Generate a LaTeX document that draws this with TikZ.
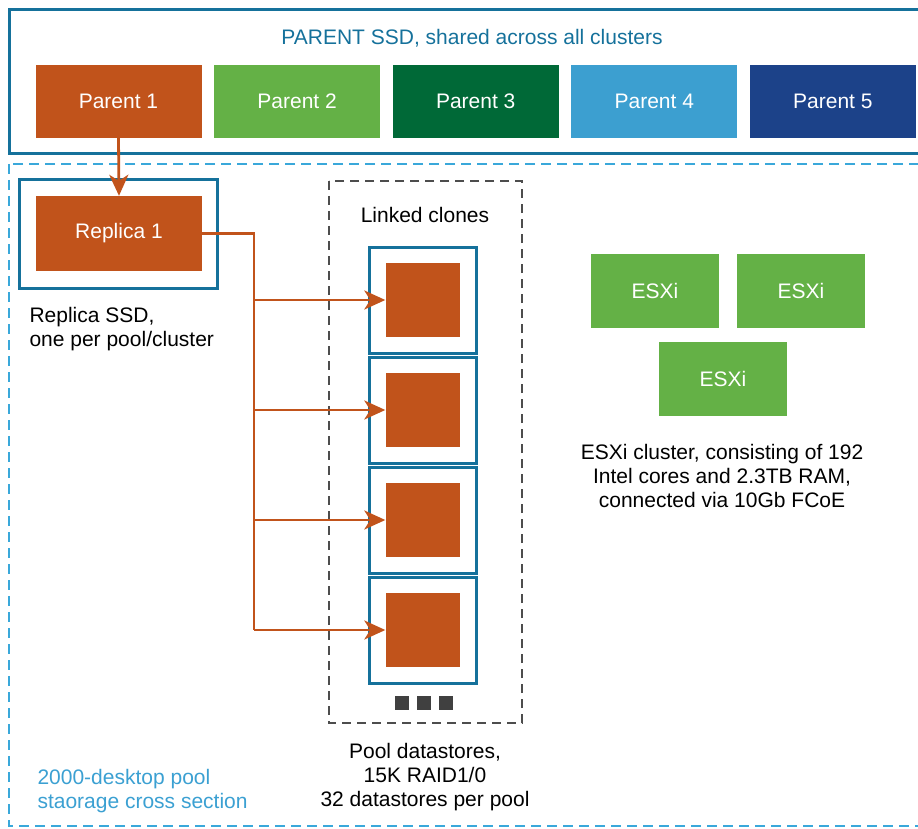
\documentclass[tikz,border=0pt]{standalone}
\usepackage{fontspec}
\setmainfont{Liberation Sans}
\usetikzlibrary{arrows.meta}
\definecolor{orng}{RGB}{193,83,27}
\definecolor{grnlight}{RGB}{100,177,70}
\definecolor{grndark}{RGB}{0,105,55}
\definecolor{bluelight}{RGB}{60,159,208}
\definecolor{bluedark}{RGB}{28,66,137}
\definecolor{framblue}{RGB}{21,113,155}
\definecolor{dashblue}{RGB}{58,168,218}
\definecolor{pooltxt}{RGB}{59,160,210}
\definecolor{boxgray}{RGB}{77,77,77}
\definecolor{dotgray}{RGB}{64,64,64}
\tikzset{
  fillbox/.style={inner sep=0pt, text=white, font=\fontsize{21}{24}\selectfont},
  clonebox/.style={draw=framblue, line width=3pt, minimum width=107pt, minimum height=106pt, inner sep=0pt},
  clonedisk/.style={fill=orng, minimum size=74pt, inner sep=0pt},
  feed/.style={draw=orng, line width=2.8pt},
  feedtip/.style={-{Stealth[length=21pt, width=19pt, inset=6pt]}}
}
\begin{document}
\begin{tikzpicture}[x=1pt, y=-1pt, font=\fontsize{21}{24}\selectfont]
	\useasboundingbox (0,0) rectangle (918,829);
	\clip (0,0) rectangle (918,829);
	% parent ssd
	\draw[framblue, line width=3pt] (9,10) rectangle (930,154);
	\node[text=framblue] (title) at (472,38) {PARENT SSD, shared across all clusters};
	\foreach \i/\col in {1/orng, 2/grnlight, 3/grndark, 4/bluelight, 5/bluedark}
		\node[fillbox, fill=\col, minimum width=166pt, minimum height=73pt]
			(p\i) at ({118.5+178.6*(\i-1)},101.5) {Parent \i};
	% pool section
	\draw[dashblue, line width=2.2pt, dash pattern=on 10pt off 6pt] (9,164) rectangle (930,826);
	\node[text=pooltxt, align=left, anchor=west] (pool) at (34,791)
		{2000-desktop pool\\staorage cross section};
	% replica
	\draw[framblue, line width=3pt] (19,180) rectangle (217,288);
	\node[fillbox, fill=orng, minimum width=166pt, minimum height=75pt] (rep) at (119,233.5) {Replica 1};
	\node[align=left, anchor=west] (replbl) at (26,329) {Replica SSD,\\one per pool/cluster};
	\draw[feed, feedtip] (p1.south) -- (rep.north);
	% linked clones
	\draw[boxgray, line width=2.2pt, dash pattern=on 9pt off 6pt] (329,181) rectangle (522,723);
	\node (lnk) at (425,215) {Linked clones};
	\foreach \i in {1,...,4} {
		\node[clonebox] (c\i) at (422.5,{300+110*(\i-1)}) {};
		\node[clonedisk] (d\i) at (c\i.center) {};
	}
	\foreach \x in {402,424,446}
		\fill[dotgray] (\x-7,696) rectangle (\x+7,710);
	\node[align=center] (dslbl) at (425,777) {Pool datastores,\\15K RAID1/0\\32 datastores per pool};
	% feeds to clones
	\coordinate (bus) at (254,630);
	\draw[feed] (rep.east) -| (bus);
	\foreach \i in {1,...,4}
		\draw[feed, feedtip] (bus |- d\i.west) -- (d\i.west);
	% esxi cluster
	\node[fillbox, fill=grnlight, minimum width=128pt, minimum height=74pt] (e1) at (655,291) {ESXi};
	\node[fillbox, fill=grnlight, minimum width=128pt, minimum height=74pt] (e2) at (801,291) {ESXi};
	\node[fillbox, fill=grnlight, minimum width=128pt, minimum height=74pt] (e3) at (723,379) {ESXi};
	\node[align=center] (esxlbl) at (722,476)
		{ESXi cluster, consisting of 192\\Intel cores and 2.3TB RAM,\\connected via 10Gb FCoE};
\end{tikzpicture}
\end{document}
